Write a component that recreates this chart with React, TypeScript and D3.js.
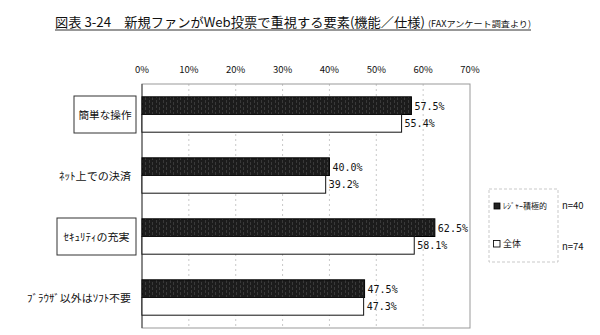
import React from "react";
import * as d3 from "d3";

const categories = ["簡単な操作", "ﾈｯﾄ上での決済", "ｾｷｭﾘﾃｨの充実", "ﾌﾞﾗｳｻﾞ以外はｿﾌﾄ不要"];
const boxed = [true, false, true, false];
const leisureValues = [57.5, 40.0, 62.5, 47.5];
const allValues = [55.4, 39.2, 58.1, 47.3];
const ticks = [0, 10, 20, 30, 40, 50, 60, 70];
const seriesNames = ["ﾚｼﾞｬｰ積極的", "全体"];
const seriesN = ["n=40", "n=74"];

const W = 600;
const H = 335;
const plot = { left: 142, right: 470, top: 84, bottom: 328 };
const jp = "'Noto Sans CJK JP', 'Noto Sans', sans-serif";
const mono = "'DejaVu Sans Mono', 'Liberation Mono', monospace";

export default function App() {
  const x = d3.scaleLinear().domain([0, 70]).range([plot.left, plot.right]);
  const y = d3
    .scaleBand<string>()
    .domain(categories)
    .range([plot.top, plot.bottom])
    .paddingInner(0.42)
    .paddingOuter(0.21);
  const sub = d3.scaleBand<string>().domain(["a", "b"]).range([0, y.bandwidth()]);
  const labelWidths = [53, 72, 66, 104];

  return (
    <svg
      width={W}
      height={H}
      style={{ position: "absolute", left: 0, top: 0, background: "#fff" }}
    >
      <defs>
        <linearGradient id="dark" x1="0" x2="1" y1="0" y2="0">
          <stop offset="0" stopColor="#0a0a0a" />
          <stop offset="0.5" stopColor="#262626" />
          <stop offset="1" stopColor="#3a3a3a" />
        </linearGradient>
        <pattern id="grain" width="7" height="5" patternUnits="userSpaceOnUse">
          <rect width="7" height="5" fill="#1c1c1c" />
          <rect x="2" y="0" width="1" height="3" fill="#555" opacity="0.5" />
          <rect x="5" y="2" width="1" height="3" fill="#666" opacity="0.4" />
        </pattern>
      </defs>

      {/* Title */}
      <text x={55} y={27} fontFamily={jp} fontSize={13} fill="#111" textLength={370} lengthAdjust="spacingAndGlyphs">
        図表 3-24　新規ファンがWeb投票で重視する要素(機能／仕様)
      </text>
      <text x={428} y={27} fontFamily={jp} fontSize={8.5} fill="#111" textLength={103} lengthAdjust="spacingAndGlyphs">
        (FAXアンケート調査より)
      </text>
      <line x1={55} x2={531} y1={30} y2={30} stroke="#333" strokeWidth={1.2} />

      {/* Tick labels */}
      {ticks.map((t) => (
        <text key={t} x={x(t)} y={73} textAnchor="middle" fontFamily={jp} fontSize={9.5} fill="#111">
          {t}%
        </text>
      ))}

      {/* Gridlines */}
      {ticks.slice(1, -1).map((t) => (
        <line key={t} x1={x(t)} x2={x(t)} y1={plot.top} y2={plot.bottom} stroke="#bbb" strokeWidth={0.8} strokeDasharray="2,3" />
      ))}

      {/* Plot frame */}
      <rect x={plot.left} y={plot.top} width={plot.right - plot.left} height={plot.bottom - plot.top} fill="none" stroke="#999" strokeWidth={1} />
      <line x1={plot.left} x2={plot.left} y1={plot.top} y2={plot.bottom} stroke="#444" strokeWidth={1} />

      {/* Bars */}
      {categories.map((c, i) => {
        const y0 = y(c)!;
        const ya = y0 + sub("a")!;
        const yb = y0 + sub("b")!;
        const h = sub.bandwidth();
        return (
          <g key={c}>
            <rect x={x(0)} y={ya} width={x(leisureValues[i]) - x(0)} height={h} fill="url(#grain)" stroke="#000" strokeWidth={1} />
            <rect x={x(0)} y={yb} width={x(allValues[i]) - x(0)} height={h} fill="#fff" stroke="#111" strokeWidth={1} />
            <text x={x(leisureValues[i]) + 3} y={ya + h / 2 + 4} fontFamily={mono} fontSize={10} fill="#111">
              {leisureValues[i].toFixed(1)}%
            </text>
            <text x={x(allValues[i]) + 3} y={yb + h / 2 + 4} fontFamily={mono} fontSize={10} fill="#111">
              {allValues[i].toFixed(1)}%
            </text>
          </g>
        );
      })}

      {/* Category labels */}
      {categories.map((c, i) => {
        const cy = y(c)! + y.bandwidth() / 2;
        if (boxed[i]) {
          const bw = i === 0 ? 62 : 79;
          const bx = 136 - bw;
          return (
            <g key={c}>
              <rect x={bx} y={cy - 18.5} width={bw} height={37} fill="#fff" stroke="#333" strokeWidth={1} />
              <text x={bx + bw / 2} y={cy + 4} textAnchor="middle" fontFamily={jp} fontSize={10.5} fill="#111" textLength={labelWidths[i]} lengthAdjust="spacingAndGlyphs">
                {c}
              </text>
            </g>
          );
        }
        return (
          <text key={c} x={131 - labelWidths[i]} y={cy + 4} fontFamily={jp} fontSize={10.5} fill="#111" textLength={labelWidths[i]} lengthAdjust="spacingAndGlyphs">
            {c}
          </text>
        );
      })}

      {/* Legend */}
      <rect x={489} y={189} width={69} height={73} fill="none" stroke="#bbb" strokeWidth={0.8} strokeDasharray="3,2" />
      <rect x={494} y={203} width={6} height={6} fill="#222" stroke="#000" strokeWidth={0.8} />
      <text x={503} y={209} fontFamily={jp} fontSize={8} fill="#111" textLength={44} lengthAdjust="spacingAndGlyphs">
        {seriesNames[0]}
      </text>
      <text x={562} y={209} fontFamily={jp} fontSize={9.5} fill="#111">
        {seriesN[0]}
      </text>
      <rect x={493.5} y={240.5} width={6.5} height={6.5} fill="#fff" stroke="#111" strokeWidth={0.9} />
      <text x={503} y={247} fontFamily={jp} fontSize={9} fill="#111">
        {seriesNames[1]}
      </text>
      <text x={562} y={250} fontFamily={jp} fontSize={9.5} fill="#111">
        {seriesN[1]}
      </text>
    </svg>
  );
}
